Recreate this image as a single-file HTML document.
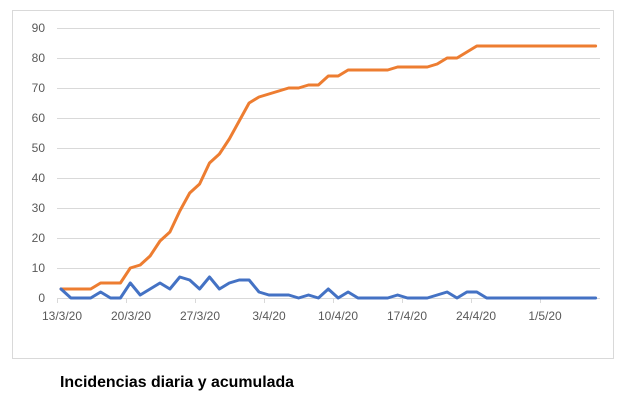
<!DOCTYPE html>
<html><head><meta charset="utf-8"><style>
html,body{margin:0;padding:0;background:#fff;width:625px;height:407px;overflow:hidden}
</style></head><body>
<svg width="625" height="407" xmlns="http://www.w3.org/2000/svg" style="display:block">
<rect x="12.5" y="10.5" width="601" height="348" fill="#fff" stroke="#d9d9d9" stroke-width="1"/>
<g stroke="#d9d9d9" stroke-width="1">
<line x1="57" x2="600" y1="28.5" y2="28.5"/>
<line x1="57" x2="600" y1="58.5" y2="58.5"/>
<line x1="57" x2="600" y1="88.5" y2="88.5"/>
<line x1="57" x2="600" y1="118.5" y2="118.5"/>
<line x1="57" x2="600" y1="148.5" y2="148.5"/>
<line x1="57" x2="600" y1="178.5" y2="178.5"/>
<line x1="57" x2="600" y1="208.5" y2="208.5"/>
<line x1="57" x2="600" y1="238.5" y2="238.5"/>
<line x1="57" x2="600" y1="268.5" y2="268.5"/>
<line x1="57" x2="600" y1="298.5" y2="298.5"/>
<line x1="57.5" x2="57.5" y1="298" y2="303"/>
<line x1="126.5" x2="126.5" y1="298" y2="303"/>
<line x1="195.5" x2="195.5" y1="298" y2="303"/>
<line x1="264.5" x2="264.5" y1="298" y2="303"/>
<line x1="333.5" x2="333.5" y1="298" y2="303"/>
<line x1="402.5" x2="402.5" y1="298" y2="303"/>
<line x1="471.5" x2="471.5" y1="298" y2="303"/>
<line x1="540.5" x2="540.5" y1="298" y2="303"/>
</g>
<g font-family="Liberation Sans, sans-serif" font-size="12" fill="#595959" text-anchor="end">
<text x="45" y="32">90</text><text x="45" y="62">80</text><text x="45" y="92">70</text>
<text x="45" y="122">60</text><text x="45" y="152">50</text><text x="45" y="182">40</text>
<text x="45" y="212">30</text><text x="45" y="242">20</text><text x="45" y="272">10</text>
<text x="45" y="302">0</text>
</g>
<g font-family="Liberation Sans, sans-serif" font-size="12" fill="#595959" text-anchor="middle">
<text x="62" y="320">13/3/20</text><text x="131" y="320">20/3/20</text><text x="200" y="320">27/3/20</text>
<text x="269" y="320">3/4/20</text><text x="338" y="320">10/4/20</text><text x="407" y="320">17/4/20</text>
<text x="476" y="320">24/4/20</text><text x="545" y="320">1/5/20</text>
</g>
<g transform="translate(61,298) scale(9.9,-3)" fill="none" stroke-linejoin="round" stroke-linecap="round">
<polyline vector-effect="non-scaling-stroke" stroke="#ED7D31" stroke-width="3" points="0,3 1,3 2,3 3,3 4,5 5,5 6,5 7,10 8,11 9,14 10,19 11,22 12,29 13,35 14,38 15,45 16,48 17,53 18,59 19,65 20,67 21,68 22,69 23,70 24,70 25,71 26,71 27,74 28,74 29,76 30,76 31,76 32,76 33,76 34,77 35,77 36,77 37,77 38,78 39,80 40,80 41,82 42,84 54,84"/>
<polyline vector-effect="non-scaling-stroke" stroke="#4472C4" stroke-width="3" points="0,3 1,0 2,0 3,0 4,2 5,0 6,0 7,5 8,1 9,3 10,5 11,3 12,7 13,6 14,3 15,7 16,3 17,5 18,6 19,6 20,2 21,1 22,1 23,1 24,0 25,1 26,0 27,3 28,0 29,2 30,0 31,0 32,0 33,0 34,1 35,0 36,0 37,0 38,1 39,2 40,0 41,2 42,2 43,0 54,0"/>
</g>
<text x="60" y="387" font-family="Liberation Sans, sans-serif" font-size="16" font-weight="bold" fill="#000" textLength="234" lengthAdjust="spacingAndGlyphs">Incidencias diaria y acumulada</text>
</svg>
</body></html>
